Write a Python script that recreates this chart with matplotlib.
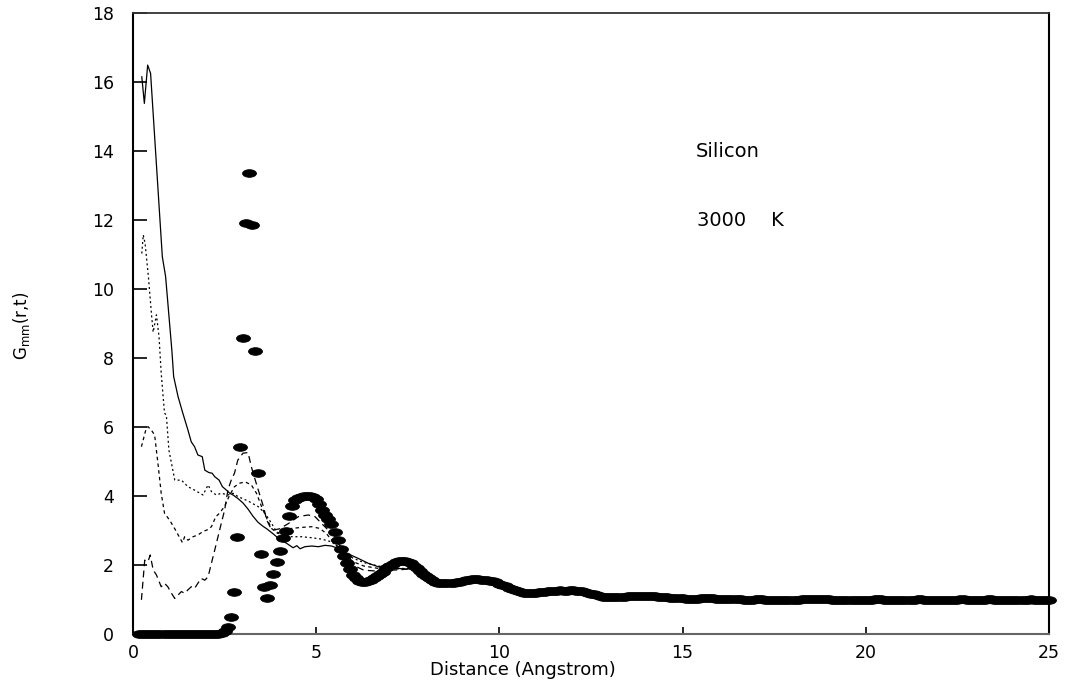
import numpy as np
import matplotlib
matplotlib.use("Agg")
import matplotlib.pyplot as plt
from matplotlib.path import Path
import matplotlib.transforms as mtrans

plt.rcParams['font.family'] = ['DejaVu Sans']
plt.rcParams['mathtext.fontset'] = 'dejavusans'

# ---------------- data ----------------
DR = 25.0 / 300.0   # radial grid spacing of the t=0 curve
# t = 0 curve (filled markers), starting at r = 2*DR, one row per Angstrom
g_t0 = [
    # 0.17 .. 0.92
    0.00, 0.00, 0.00, 0.00, 0.00, 0.00, 0.00, 0.00, 0.00, 0.00,
    # 1 .. 2
    0.00, 0.00, 0.00, 0.00, 0.00, 0.00, 0.00, 0.00, 0.00, 0.00, 0.00, 0.00,
    # 2 .. 3
    0.00, 0.00, 0.00, 0.00, 0.01, 0.04, 0.10, 0.21, 0.49, 1.23, 2.82, 5.43,
    # 3 .. 4
    8.57, 11.92, 13.35, 11.86, 8.20, 4.68, 2.31, 1.35, 1.03, 1.42, 1.73, 2.10,
    # 4 .. 5
    2.42, 2.77, 3.00, 3.42, 3.72, 3.87, 3.93, 3.97, 3.99, 4.00, 3.99, 3.96,
    # 5 .. 6
    3.90, 3.78, 3.60, 3.45, 3.32, 3.18, 2.95, 2.72, 2.46, 2.26, 2.05, 1.88,
    # 6 .. 7
    1.70, 1.61, 1.55, 1.52, 1.52, 1.53, 1.57, 1.62, 1.67, 1.73, 1.81, 1.90,
    # 7 .. 8
    1.98, 2.04, 2.09, 2.12, 2.13, 2.12, 2.10, 2.05, 1.98, 1.90, 1.82, 1.74,
    # 8 .. 9
    1.67, 1.61, 1.56, 1.52, 1.49, 1.47, 1.47, 1.47, 1.48, 1.49, 1.50, 1.52,
    # 9 .. 10
    1.54, 1.56, 1.57, 1.58, 1.58, 1.58, 1.57, 1.57, 1.56, 1.55, 1.53, 1.50,
    # 10 .. 11
    1.46, 1.42, 1.38, 1.34, 1.30, 1.27, 1.24, 1.22, 1.20, 1.19, 1.19, 1.19,
    # 11 .. 12
    1.20, 1.21, 1.22, 1.23, 1.24, 1.25, 1.25, 1.26, 1.27, 1.26, 1.26, 1.27,
    # 12 .. 13
    1.27, 1.26, 1.25, 1.24, 1.22, 1.20, 1.17, 1.15, 1.12, 1.10, 1.08, 1.07,
    # 13 .. 14
    1.07, 1.07, 1.07, 1.07, 1.08, 1.08, 1.09, 1.09, 1.10, 1.10, 1.11, 1.11,
    # 14 .. 15
    1.11, 1.10, 1.10, 1.09, 1.08, 1.08, 1.07, 1.06, 1.05, 1.05, 1.04, 1.03,
    # 15 .. 16
    1.03, 1.02, 1.02, 1.02, 1.02, 1.02, 1.03, 1.03, 1.03, 1.03, 1.03, 1.02,
    # 16 .. 17
    1.02, 1.02, 1.02, 1.02, 1.02, 1.01, 1.01, 1.01, 1.00, 1.00, 1.00, 1.00,
    # 17 .. 18
    1.01, 1.01, 1.01, 1.00, 1.00, 1.00, 0.99, 0.99, 0.99, 1.00, 1.00, 1.00,
    # 18 .. 19
    1.00, 1.00, 1.00, 1.01, 1.01, 1.01, 1.01, 1.02, 1.02, 1.02, 1.01, 1.01,
    # 19 .. 20
    1.01, 1.00, 1.00, 1.00, 0.99, 0.99, 0.99, 0.99, 1.00, 1.00, 1.00, 1.00,
    # 20 .. 21
    1.00, 1.00, 1.00, 1.01, 1.01, 1.01, 1.00, 1.00, 1.00, 1.00, 0.99, 0.99,
    # 21 .. 22
    1.00, 1.00, 1.00, 1.00, 1.00, 1.01, 1.01, 1.00, 1.00, 1.00, 1.00, 1.00,
    # 22 .. 23
    1.00, 1.00, 0.99, 0.99, 1.00, 1.00, 1.00, 1.01, 1.01, 1.00, 1.00, 1.00,
    # 23 .. 24
    1.00, 1.00, 1.00, 1.00, 1.01, 1.01, 1.00, 1.00, 1.00, 0.99, 0.99, 1.00,
    # 24 .. 25
    1.00, 1.00, 1.00, 1.00, 1.00, 1.00, 1.01, 1.00, 1.00, 1.00, 1.00, 0.99,
    # 25
    0.99,
]

# t1 : long dashed
r_t1 = [0.23, 0.32, 0.41, 0.47, 0.55, 0.64, 0.77, 0.86, 0.95, 1.05, 1.14, 1.23,
        1.32, 1.41, 1.50, 1.59, 1.68, 1.77, 1.86, 1.96, 2.05, 2.14, 2.23, 2.32,
        2.41, 2.50, 2.59, 2.68, 2.77, 2.86, 3.00, 3.14, 3.23, 3.28, 3.42, 3.56,
        3.65, 3.74, 3.83, 4.00, 4.24, 4.51, 4.78, 4.97, 5.15, 5.33, 5.50, 5.70,
        6.00, 6.30, 6.70, 7.00, 7.30, 7.60, 8.00]
g_t1 = [0.99, 2.14, 2.10, 2.29, 1.86, 1.71, 1.37, 1.47, 1.37, 1.18, 1.03, 1.13,
        1.23, 1.18, 1.28, 1.37, 1.32, 1.47, 1.61, 1.56, 1.66, 2.05, 2.43, 2.82,
        3.21, 3.59, 4.17, 4.46, 4.66, 5.04, 5.24, 5.26, 4.85, 4.66, 4.17, 3.69,
        3.30, 3.11, 3.01, 3.05, 3.20, 3.40, 3.45, 3.40, 3.20, 3.01, 2.85, 2.45,
        2.00, 1.85, 1.82, 1.85, 1.86, 1.90, 1.67]

# t2 : medium dotted
r_t2 = [0.23, 0.36, 0.41, 0.50, 0.59, 0.68, 0.77, 0.86, 1.00, 1.14, 1.27, 1.35,
        1.41, 1.50, 1.64, 1.77, 1.91, 2.05, 2.14, 2.26, 2.36, 2.50, 2.64, 2.77,
        2.91, 3.06, 3.23, 3.37, 3.51, 3.65, 3.78, 3.96, 4.15, 4.33, 4.60, 4.88,
        5.10, 5.28, 5.42, 5.70, 6.00, 6.30, 6.70, 7.00, 7.30, 7.60, 8.00]
g_t2 = [5.43, 5.96, 6.01, 5.91, 5.77, 4.95, 4.08, 3.50, 3.30, 3.05, 2.80, 2.65,
        2.82, 2.72, 2.82, 2.87, 2.97, 3.03, 3.11, 3.40, 3.50, 3.70, 4.03, 4.27,
        4.37, 4.41, 4.32, 4.08, 3.69, 3.35, 3.06, 2.91, 3.01, 3.06, 3.09, 3.11,
        3.06, 2.91, 2.72, 2.40, 2.10, 1.97, 1.90, 1.90, 1.88, 1.90, 1.67]

# t3 : fine dotted
r_t3 = [0.24, 0.28, 0.33, 0.42, 0.51, 0.55, 0.64, 0.71, 0.77, 0.86, 0.91, 0.98,
        1.05, 1.14, 1.32, 1.50, 1.68, 1.91, 2.05, 2.14, 2.27, 2.41, 2.59, 2.73,
        2.87, 3.15, 3.42, 3.60, 3.78, 3.92, 4.10, 4.33, 4.60, 4.88, 5.15, 5.42,
        5.70, 6.00, 6.30, 6.70, 7.00, 7.30, 7.60, 8.00]
g_t3 = [11.03, 11.57, 11.32, 10.36, 9.20, 8.75, 9.25, 8.62, 7.56, 6.40, 6.35, 5.33,
        4.95, 4.46, 4.46, 4.27, 4.17, 4.03, 4.32, 4.13, 4.03, 4.08, 4.03, 4.08,
        3.98, 3.85, 3.69, 3.50, 3.21, 2.96, 2.87, 2.82, 2.82, 2.79, 2.75, 2.67,
        2.45, 2.20, 2.07, 1.97, 1.92, 1.90, 1.90, 1.67]

# t4 : solid
r_t4 = [0.24, 0.31, 0.40, 0.48, 0.80, 0.89, 1.06, 1.11, 1.23, 1.36, 1.50, 1.59,
        1.68, 1.77, 1.89, 1.96, 2.07, 2.16, 2.23, 2.35, 2.44, 2.55, 2.64, 2.73,
        2.86, 3.00, 3.14, 3.27, 3.41, 3.55, 3.65, 3.83, 3.97, 4.19, 4.37, 4.47,
        4.56, 4.69, 4.88, 5.06, 5.24, 5.42, 5.60, 5.78, 5.96, 6.15, 6.42, 6.69,
        6.96, 7.25, 7.45, 7.70, 8.00]
g_t4 = [16.15, 15.38, 16.49, 16.25, 10.94, 10.36, 8.23, 7.46, 6.88, 6.40, 5.91, 5.57,
        5.43, 5.19, 5.14, 4.75, 4.68, 4.66, 4.56, 4.46, 4.27, 4.17, 4.08, 4.03,
        3.93, 3.80, 3.62, 3.42, 3.24, 3.12, 3.05, 2.90, 2.77, 2.63, 2.50, 2.56,
        2.47, 2.53, 2.55, 2.53, 2.57, 2.55, 2.48, 2.36, 2.28, 2.19, 2.05, 1.95,
        1.91, 1.90, 1.88, 1.92, 1.67]

x_ticks = [0, 5, 10, 15, 20, 25]
y_ticks = [0, 2, 4, 6, 8, 10, 12, 14, 16, 18]

# ---------------- figure ----------------
W, H = 1072, 689
fig = plt.figure(figsize=(W / 100, H / 100), dpi=100)
ax = fig.add_axes([133 / W, 1 - 634 / H, (1049 - 133) / W, (634 - 13) / H])

r0 = DR * np.arange(2, 2 + len(g_t0))

lw = 0.9
ax.plot(r_t4, g_t4, color='black', lw=lw, ls='-', zorder=2)
ax.plot(r_t3, g_t3, color='black', lw=lw, ls=(0, (1.6, 2.2)), zorder=2)
ax.plot(r_t2, g_t2, color='black', lw=lw, ls=(0, (2.8, 2.6)), zorder=2)
ax.plot(r_t1, g_t1, color='black', lw=lw, ls=(0, (5.5, 3.5)), zorder=2)

ellipse = Path.unit_circle().transformed(mtrans.Affine2D().scale(1.0, 0.55))
ax.plot(r0, g_t0, ls='none', marker=ellipse, ms=10.0, color='black',
        mec='black', mew=0.6, clip_on=False, zorder=3)

ax.set_xlim(0, 25)
ax.set_ylim(0, 18)
ax.set_xticks(x_ticks)
ax.set_yticks(y_ticks)

ax.tick_params(axis='y', direction='in', length=10, width=1.2, pad=13.5,
               labelsize=12.5, right=False)
ax.tick_params(axis='x', direction='in', length=5, width=1.2, pad=7,
               labelsize=12.5, top=False)

for side in ('left', 'right'):
    ax.spines[side].set_color('black')
    ax.spines[side].set_linewidth(1.5)
ax.spines['top'].set_color('#333333')
ax.spines['top'].set_linewidth(1.3)
ax.spines['bottom'].set_color('#666666')
ax.spines['bottom'].set_linewidth(1.5)

ax.text(16.23, 13.99, 'Silicon', fontsize=14, ha='center', va='center')
ax.text(16.59, 12.0, '3000    K', fontsize=14, ha='center', va='center')

fig.text(523 / W, 1 - 670 / H, 'Distance (Angstrom)', fontsize=13,
         ha='center', va='center')
fig.text(22 / W, 1 - 326 / H, r'G$_{\rm mm}$(r,t)', fontsize=12,
         rotation=90, ha='center', va='center')

fig.savefig('out.png', dpi=100)
